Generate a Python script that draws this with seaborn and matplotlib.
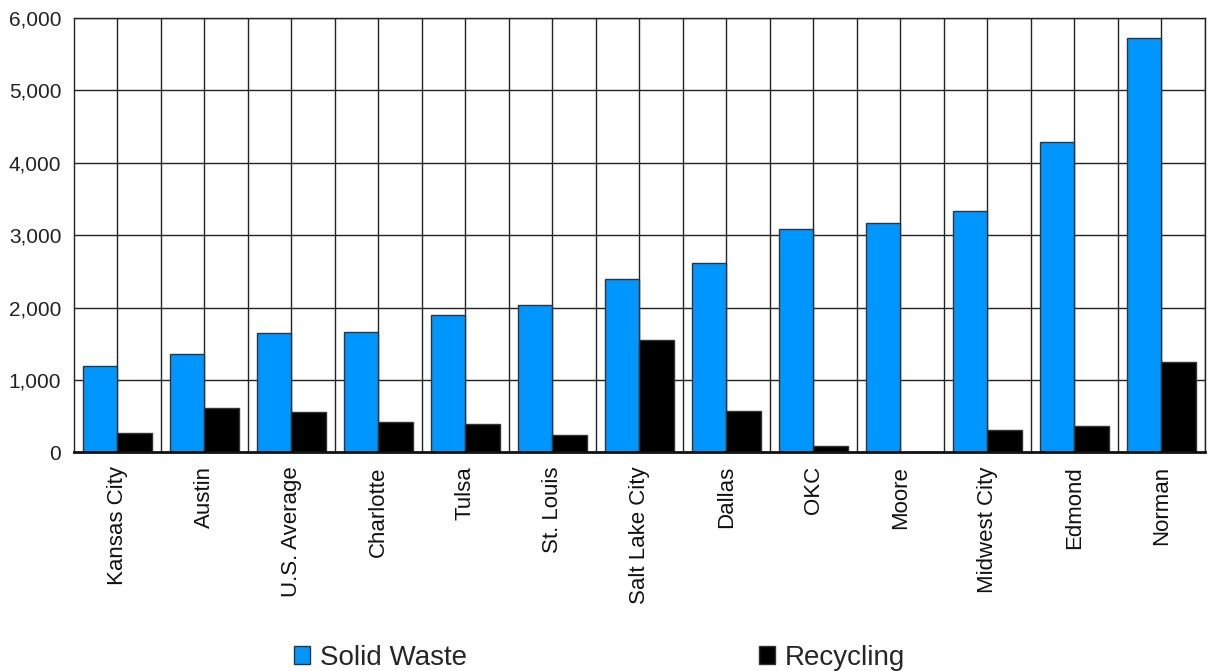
import matplotlib
matplotlib.use("Agg")
import matplotlib.pyplot as plt
import seaborn as sns
import pandas as pd
from matplotlib.ticker import FuncFormatter, MultipleLocator
from matplotlib.patches import Patch

cities = ["Kansas City", "Austin", "U.S. Average", "Charlotte", "Tulsa", "St. Louis",
          "Salt Lake City", "Dallas", "OKC", "Moore", "Midwest City", "Edmond", "Norman"]
solid_waste = [1190, 1355, 1645, 1660, 1895, 2035, 2395, 2615, 3085, 3165, 3335, 4290, 5720]
recycling = [265, 605, 555, 420, 390, 235, 1550, 565, 85, 0, 305, 360, 1245]
series_names = ["Solid Waste", "Recycling"]
colors = ["#0096FF", "#000000"]

df = pd.DataFrame({
    "city": cities * 2,
    "value": solid_waste + recycling,
    "series": [series_names[0]] * len(cities) + [series_names[1]] * len(cities),
})

sns.set_theme(style="white")
plt.rcParams["font.family"] = ["Liberation Sans", "DejaVu Sans"]

fig = plt.figure(figsize=(12.11, 6.71), dpi=100)
ax = fig.add_axes([0.061, 0.326, 0.934, 0.647])

sns.barplot(data=df, x="city", y="value", hue="series", palette=colors,
            saturation=1, width=0.8, ax=ax, edgecolor="#333333", linewidth=1.0,
            legend=False, zorder=3)

ax.set_xlim(-0.5, len(cities) - 0.5)
ax.set_ylim(0, 6000)
ax.yaxis.set_major_locator(MultipleLocator(1000))
ax.yaxis.set_major_formatter(FuncFormatter(lambda v, p: f"{int(v):,}"))
ax.set_xticks(range(len(cities)))
ax.set_xticklabels(cities, rotation=90, fontsize=16, color="#111111")
ax.tick_params(axis="y", labelsize=15, labelcolor="#222222", length=0, pad=9)
ax.tick_params(axis="x", length=0, pad=10)
ax.set_xlabel("")
ax.set_ylabel("")

# gridlines at category boundaries and centres
for x in range(len(cities)):
    ax.axvline(x, color="#222222", linewidth=1.0, zorder=1)
    ax.axvline(x + 0.5, color="#222222", linewidth=1.0, zorder=1)
for y in range(1000, 6001, 1000):
    ax.axhline(y, color="#222222", linewidth=1.0, zorder=1)

for side in ["left", "right", "top"]:
    ax.spines[side].set_color("#222222")
    ax.spines[side].set_linewidth(1.0)
ax.spines["bottom"].set_color("#111111")
ax.spines["bottom"].set_linewidth(2.0)
ax.spines["bottom"].set_zorder(5)

handles = [Patch(facecolor=colors[0], edgecolor="#333333", label=series_names[0]),
           Patch(facecolor=colors[1], edgecolor="#333333", label=series_names[1])]
fig.legend(handles=handles, loc="center", bbox_to_anchor=(0.495, 0.02), ncol=2,
           frameon=False, fontsize=20, handlelength=0.6, handleheight=0.6,
           handletextpad=0.35, columnspacing=10.5, borderaxespad=0)

fig.savefig("out.png", dpi=100)
